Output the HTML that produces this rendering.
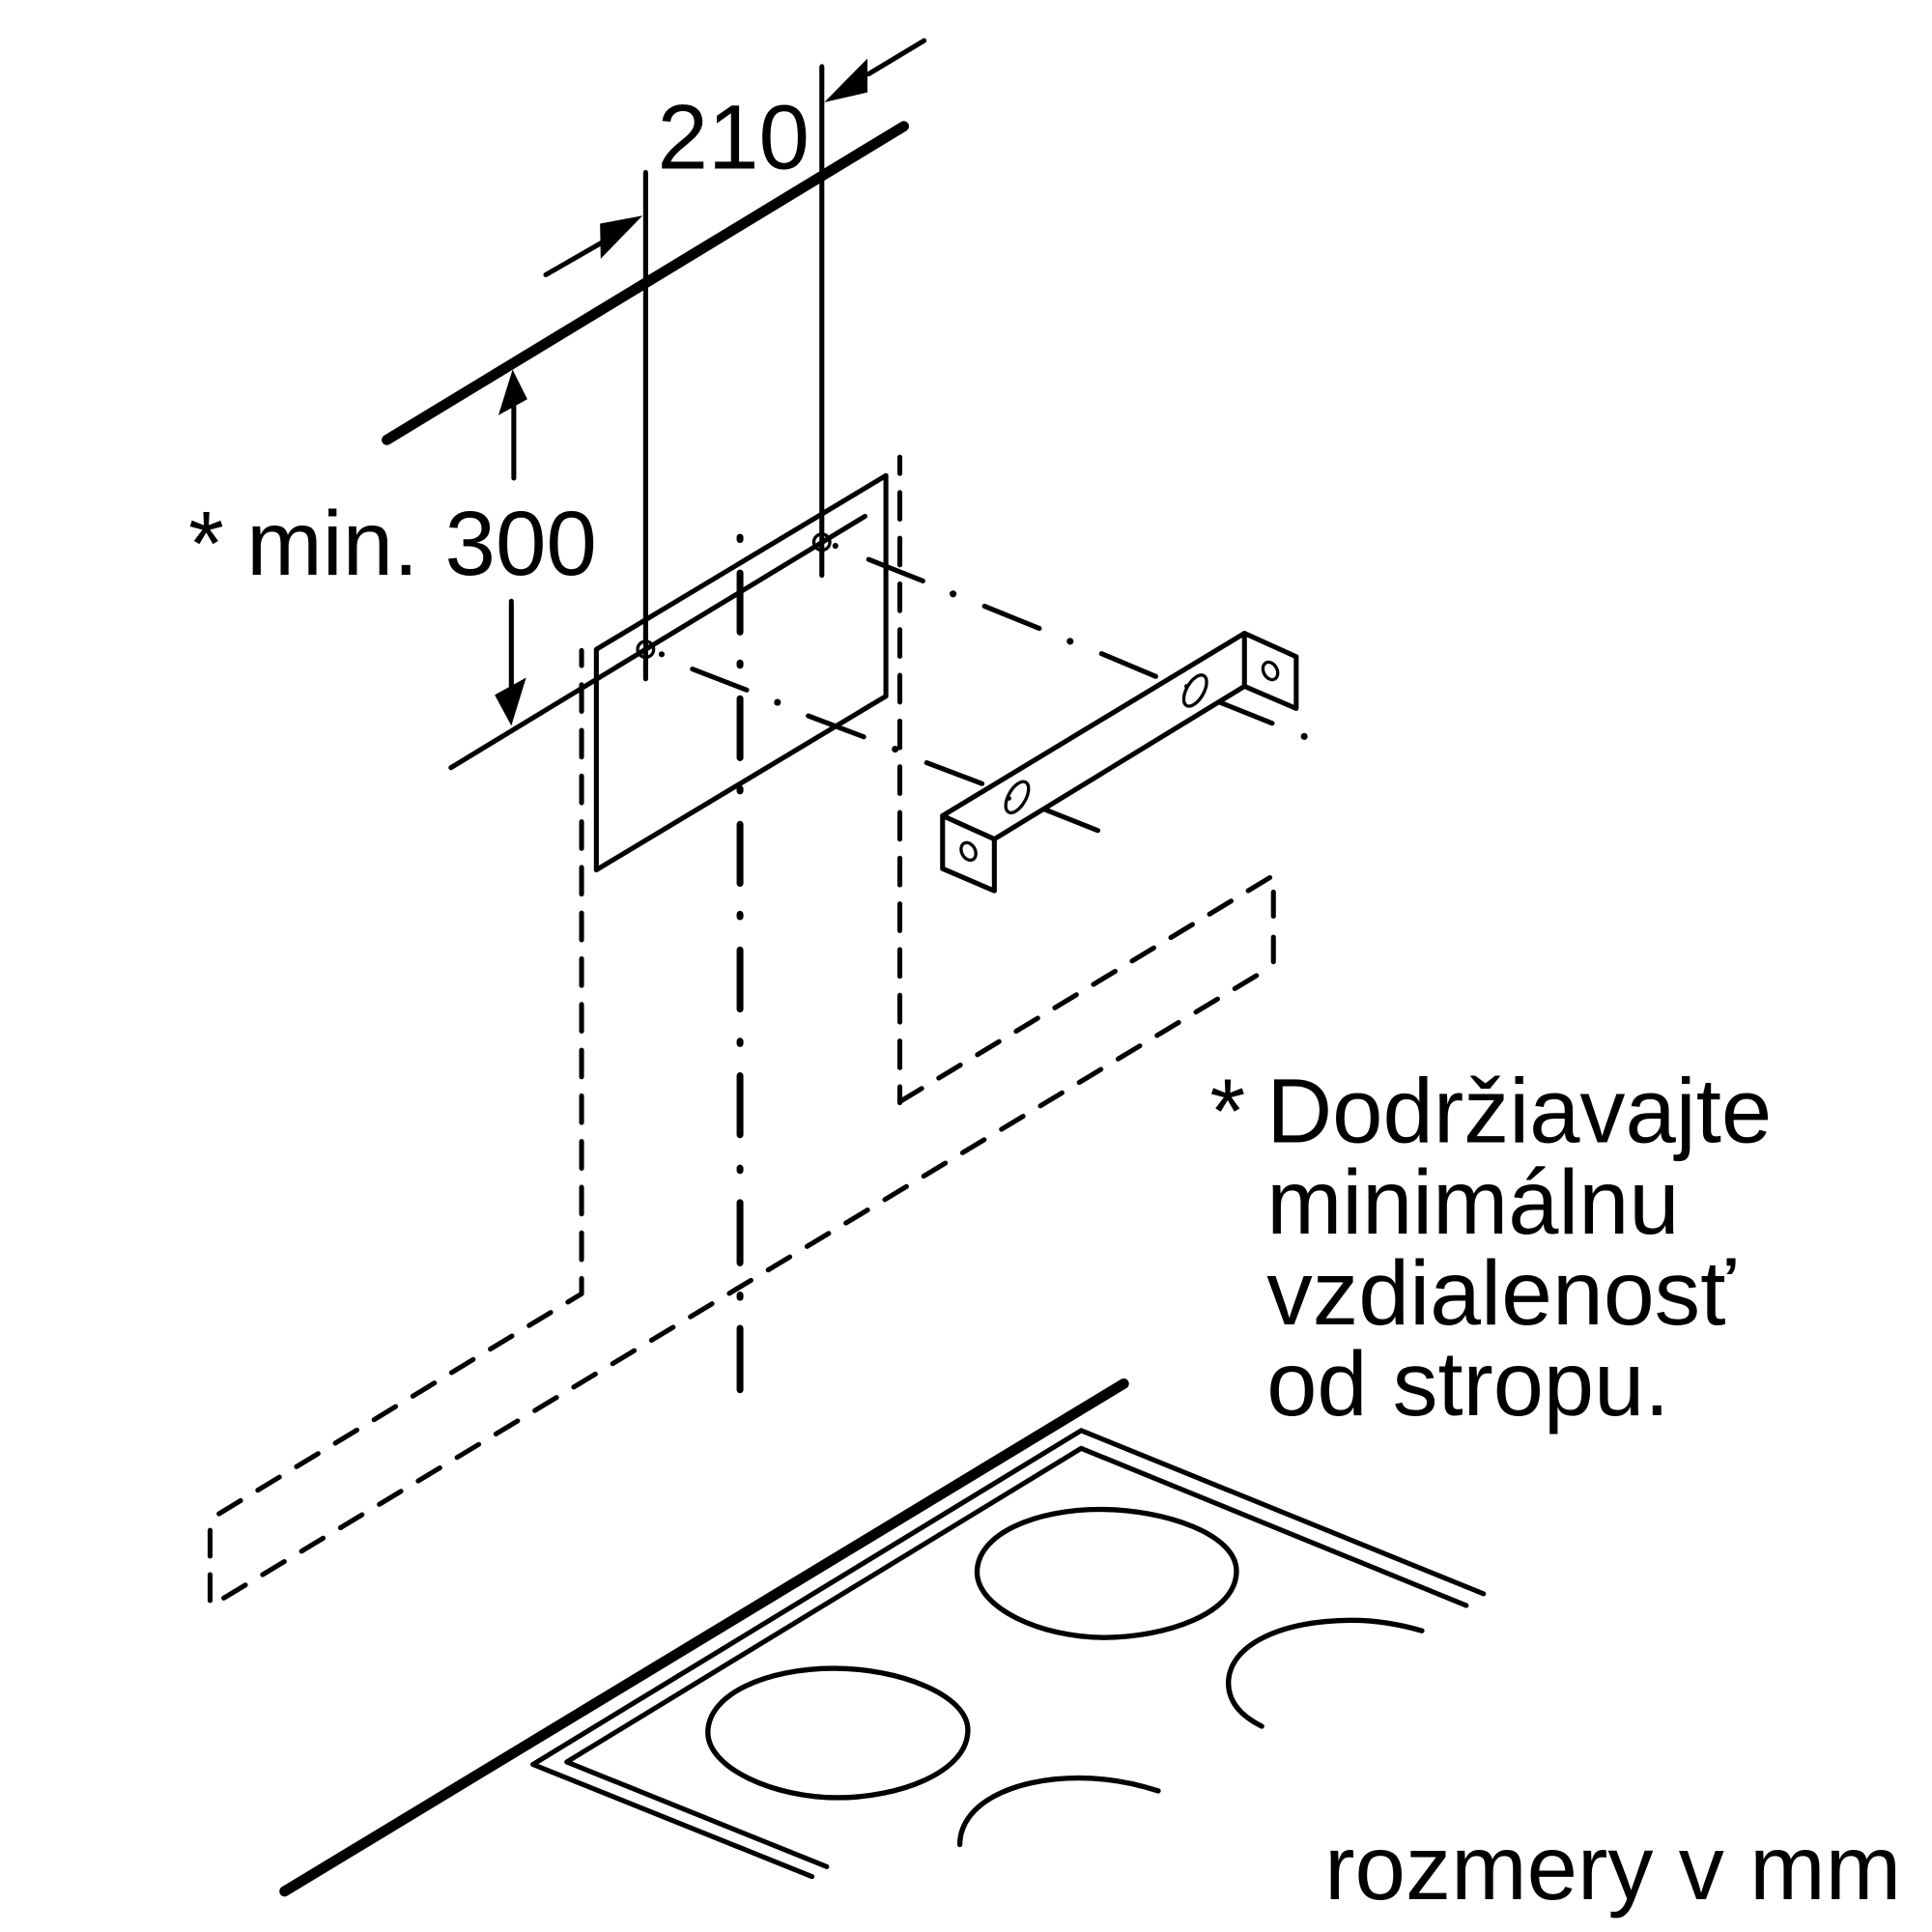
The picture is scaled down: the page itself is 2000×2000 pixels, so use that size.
<!DOCTYPE html>
<html><head><meta charset="utf-8"><style>
html,body{margin:0;padding:0;background:#fff}
svg{display:block}
text{font-family:"Liberation Sans",sans-serif;font-size:74px;fill:#000}
</style></head><body>
<svg width="2000" height="2000" viewBox="0 0 1568 1568" xmlns="http://www.w3.org/2000/svg">
<rect width="1568" height="1568" fill="#fff"/>
<g fill="none" stroke="#000" stroke-linecap="round" stroke-linejoin="round">
<g stroke-width="8.500">
<path d="M314 357L733.5 102.500"/>
<path d="M231 1535L912 1123"/>
</g>
<g stroke-width="4">
<path d="M524 140V551M667 54V467"/>
<path d="M443 223L490 196M750 33L705 60M417 388V330M415 488V560"/>
<path d="M366 623L702 419"/>
<path d="M484 527L719 386V565L484 706Z"/>
<path d="M432.500 1432L877.500 1161L1204 1293.500M432.500 1432L659 1523"/>
<path d="M460 1430L877.500 1175.500L1190 1303M460 1430L671 1515"/>
<path d="M562 543L606 560M656 581L701 598M752 619L797 636M848 657L891 674"/>
<path d="M705 454L749 471.500M799 492L843.500 510M894 530.500L938 549M990 570L1032.500 587"/>
<path d="M765 662L1010 514L1052 533V575L1010 557L807 681V723L765 705Z"/>
<path d="M765 662L807 681M1010 514V557"/>
</g>
<g stroke-width="2.600">
<circle cx="524" cy="527" r="6.500"/><circle cx="667" cy="440" r="6.500"/>
<ellipse cx="1031" cy="544.500" rx="5.500" ry="7.500" transform="rotate(-28 1031 544.500)"/>
<ellipse cx="786" cy="691" rx="5.500" ry="7.500" transform="rotate(-28 786 691)"/>
<ellipse cx="970" cy="560.500" rx="7" ry="14" transform="rotate(30 970 560.500)"/>
<ellipse cx="825.500" cy="647" rx="7" ry="14" transform="rotate(30 825.500 647)"/>
</g>
<g stroke-width="4">
<path stroke-dasharray="21.700 15.380" stroke-dashoffset="9.400" d="M472 1050V528"/>
<path stroke-dasharray="20.500 16.300" stroke-dashoffset="7.500" d="M472 1050L177 1229"/>
<path stroke-dasharray="21 15" d="M170.500 1299V1242"/>
<path stroke-dasharray="20.500 16.350" d="M181.600 1297L1031 785"/>
<path stroke-dasharray="20 17" d="M1033.500 780.600V724"/>
<path stroke-dasharray="21.700 15.400" stroke-dashoffset="8.700" d="M730.300 895V371"/>
<path stroke-dasharray="20.500 16.200" d="M730.500 894L1031 712"/>
</g>
<path stroke-width="5.500" d="M600.600 436v2M600.600 465v48M600.600 538v2M600.600 567v48M600.600 640v2M600.600 669v48M600.600 742v2M600.600 771v48M600.600 845v2M600.600 873v48M600.600 948v2M600.600 976v49M600.600 1051v2M600.600 1078v50"/>
<g stroke-width="4.200">
<path d="M793 1276C793 1245 840 1225 893 1225C945 1225 1003.500 1245 1003.500 1275C1003.500 1310 945 1329 896 1329C845 1329 793 1305 793 1276Z"/>
<path d="M574.500 1406C574.500 1375 622 1354 677 1354C728 1354 785.500 1375 785.500 1404C785.500 1439 728 1459 680 1459C628 1459 574.500 1435 574.500 1406Z"/>
<path d="M1154 1323.500C1135 1318 1115 1315 1097 1315C1040 1315 997 1335 997 1366C997 1382 1008 1393 1024 1401"/>
<path d="M940 1453.500C920 1447 900 1443 876 1443C820 1443 779 1465 779 1497"/>
</g>
</g>
<g fill="#000">
<path d="M521.500 175L487 181.500L487.500 210Z"/>
<path d="M669 83L704 47.500L704 75Z"/>
<path d="M416 300L404.500 337L428 324Z"/>
<path d="M415 589L401.500 564L427 550Z"/>
<circle cx="537" cy="531" r="2.400"/><circle cx="678" cy="443" r="2.400"/>
<circle cx="631" cy="570" r="2.800"/><circle cx="726.500" cy="608" r="2.800"/>
<circle cx="773.500" cy="482" r="2.800"/><circle cx="868.500" cy="520.500" r="2.800"/><circle cx="1058.500" cy="597.700" r="2.800"/>
<circle cx="819" cy="648" r="1.800"/><circle cx="963" cy="557" r="1.800"/>
</g>
<text x="533.500" y="137">210</text>
<text x="153" y="466.500">*</text>
<text x="200" y="466.500">min.</text>
<text x="361" y="466.500">300</text>
<text x="982" y="927">*</text>
<text x="1028" y="927" textLength="410" lengthAdjust="spacingAndGlyphs">Dodržiavajte</text>
<text x="1028" y="1001" textLength="335" lengthAdjust="spacingAndGlyphs">minimálnu</text>
<text x="1028" y="1074.700" style="font-size:74.500px">vzdialenosť</text>
<text x="1028" y="1148.600" textLength="327" lengthAdjust="spacingAndGlyphs">od stropu.</text>
<text x="1075" y="1541.500" textLength="468" lengthAdjust="spacingAndGlyphs">rozmery v mm</text>
</svg>
</body></html>
